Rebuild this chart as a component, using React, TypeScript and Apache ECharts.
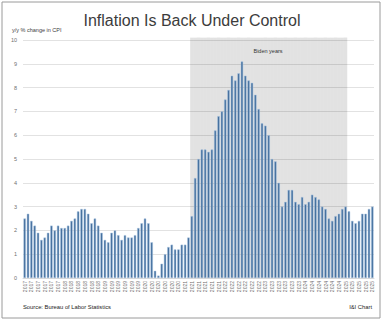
import React, { useEffect, useRef } from "react";
import * as echarts from "echarts";

const years = ["2017", "2018", "2019", "2020", "2021", "2022", "2023", "2024", "2025"];
const cpi2017 = [2.5, 2.7, 2.4, 2.2, 1.9, 1.6, 1.7, 1.9, 2.2, 2.0, 2.2, 2.1];
const cpi2018 = [2.1, 2.2, 2.4, 2.5, 2.8, 2.9, 2.9, 2.7, 2.3, 2.5, 2.2, 1.9];
const cpi2019 = [1.6, 1.5, 1.9, 2.0, 1.8, 1.6, 1.8, 1.7, 1.7, 1.8, 2.1, 2.3];
const cpi2020 = [2.5, 2.3, 1.5, 0.3, 0.1, 0.6, 1.0, 1.3, 1.4, 1.2, 1.2, 1.4];
const cpi2021 = [1.4, 1.7, 2.6, 4.2, 5.0, 5.4, 5.4, 5.3, 5.4, 6.2, 6.8, 7.0];
const cpi2022 = [7.5, 7.9, 8.5, 8.3, 8.6, 9.1, 8.5, 8.3, 8.2, 7.7, 7.1, 6.5];
const cpi2023 = [6.4, 6.0, 5.0, 4.9, 4.0, 3.0, 3.2, 3.7, 3.7, 3.2, 3.1, 3.4];
const cpi2024 = [3.1, 3.2, 3.5, 3.4, 3.3, 3.0, 2.9, 2.5, 2.4, 2.6, 2.7, 2.9];
const cpi2025 = [3.0, 2.8, 2.4, 2.3, 2.4, 2.7, 2.7, 2.9, 3.0];
const cpiByYear = [cpi2017, cpi2018, cpi2019, cpi2020, cpi2021, cpi2022, cpi2023, cpi2024, cpi2025];

const bidenStart = "2021-03";
const bidenEnd = "2025-01";
const shadeTop = 10.1;

const categories: string[] = [];
const values: number[] = [];
years.forEach((y, yi) => {
  cpiByYear[yi].forEach((v, mi) => {
    categories.push(`${y}-${String(mi + 1).padStart(2, "0")}`);
    values.push(v);
  });
});
const shadeData = categories.map((c) => (c >= bidenStart && c <= bidenEnd ? shadeTop : null));

const FONT = "'Liberation Sans', Arial, sans-serif";

export default function App() {
  const ref = useRef<HTMLDivElement>(null);
  useEffect(() => {
    if (!ref.current) return;
    const chart = echarts.init(ref.current, undefined, { renderer: "svg" });
    chart.setOption({
      animation: false,
      backgroundColor: "#ffffff",
      textStyle: { fontFamily: FONT },
      title: {
        text: "Inflation Is Back Under Control",
        left: "center",
        top: 7,
        textStyle: { fontSize: 16, fontWeight: "normal", color: "#3c3c3c", fontFamily: FONT },
      },
      grid: { left: 23, right: 10, top: 40, bottom: 43 },
      xAxis: [
        {
          type: "category",
          data: categories,
          axisTick: { show: false },
          axisLine: { lineStyle: { color: "#d9d9d9" } },
          axisLabel: {
            rotate: 90,
            interval: 1,
            fontSize: 5,
            color: "#707070",
            margin: 3,
            formatter: (v: string) => v.slice(0, 4),
          },
        },
        { type: "category", data: categories, show: false },
      ],
      yAxis: {
        type: "value",
        min: 0,
        max: 10,
        interval: 1,
        axisLine: { show: false },
        axisTick: { show: false },
        axisLabel: { fontSize: 5.5, color: "#707070", margin: 6 },
        splitLine: { lineStyle: { color: "#e2e2e2", width: 1 } },
      },
      series: [
        {
          type: "bar",
          xAxisIndex: 1,
          data: shadeData,
          barCategoryGap: 0,
          barWidth: "100%",
          silent: true,
          clip: false,
          itemStyle: { color: "rgba(0,0,0,0.115)" },
          z: 1,
        },
        {
          type: "bar",
          xAxisIndex: 0,
          data: values,
          barCategoryGap: "30%",
          itemStyle: { color: "#3f6b9a", borderColor: "#a8c4e2", borderWidth: 0.5 },
          z: 3,
        },
      ],
      graphic: [
        {
          type: "rect",
          shape: { x: 2, y: 2, width: 378, height: 316 },
          style: { fill: "none", stroke: "#9a9a9a", lineWidth: 1 },
          silent: true,
        },
        {
          type: "text",
          x: 12,
          y: 30,
          style: { text: "y/y % change in CPI", fontSize: 5.5, fill: "#404040", fontFamily: FONT, textVerticalAlign: "middle" },
        },
        {
          type: "text",
          x: 268,
          y: 51,
          style: { text: "Biden years", fontSize: 5.5, fill: "#333333", fontFamily: FONT, textAlign: "center", textVerticalAlign: "middle" },
          z: 10,
        },
        {
          type: "text",
          x: 23,
          y: 307,
          style: { text: "Source: Bureau of Labor Statistics", fontSize: 5.8, fill: "#222222", fontFamily: FONT, textVerticalAlign: "middle" },
        },
        {
          type: "text",
          x: 372,
          y: 307,
          style: { text: "I&I Chart", fontSize: 5.8, fill: "#222222", fontFamily: FONT, textAlign: "right", textVerticalAlign: "middle" },
        },
      ],
    });
    return () => chart.dispose();
  }, []);
  return <div ref={ref} style={{ position: "absolute", left: 0, top: 0, width: 384, height: 321 }} />;
}
